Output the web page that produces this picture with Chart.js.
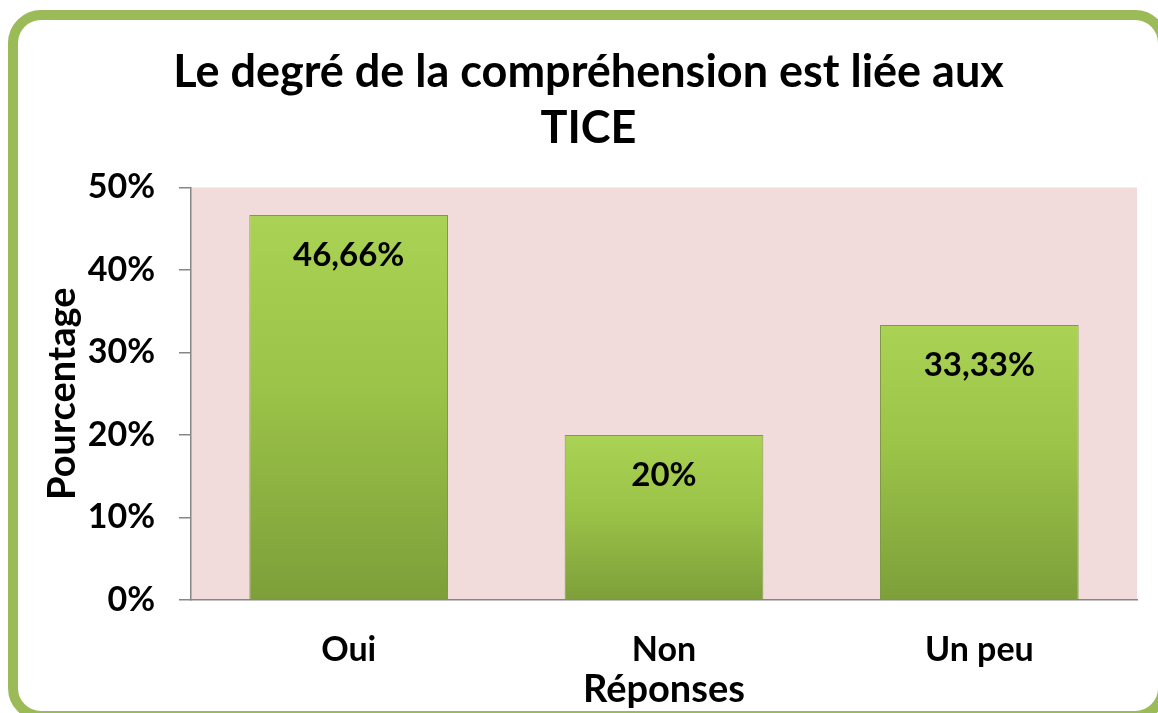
<!DOCTYPE html>
<html>
<head>
<meta charset="utf-8">
<script src="https://cdn.jsdelivr.net/npm/chart.js@4/dist/chart.umd.min.js"></script>
<style>
  html, body { margin: 0; padding: 0; background: #fff; }
  #wrap { width: 1158px; height: 713px; position: relative; }
</style>
</head>
<body>
<div id="wrap"><canvas id="myChart" width="1158" height="713"></canvas></div>
<script>
// donnees
var categories = ['Oui', 'Non', 'Un peu'];
var pourcentages = [46.66, 20, 33.33];
var yTicks = [0, 10, 20, 30, 40, 50];

var FONT = 'Lato, "Open Sans", sans-serif';
var AXIS_GREY = '#868686';

// cadre vert arrondi + fond zone de tracé rose
var frame = {
    id: 'frame',
    beforeDraw: function(chart) {
        var ctx = chart.ctx, a = chart.chartArea;
        ctx.save();
        ctx.fillStyle = '#fff';
        ctx.fillRect(0, 0, chart.width, chart.height);
        ctx.fillStyle = '#F2DCDB';
        ctx.fillRect(a.left, a.top, a.right - a.left, a.bottom - a.top);
        ctx.strokeStyle = '#9BBB59';
        ctx.lineWidth = 10;
        ctx.beginPath();
        ctx.roundRect(13, 15, 1150, 701, 28);
        ctx.stroke();
        ctx.restore();
    }
};

// etiquettes de valeurs dans le haut des barres
var valueLabels = {
    id: 'valueLabels',
    afterDatasetsDraw: function(chart) {
        var ctx = chart.ctx;
        var meta = chart.getDatasetMeta(0);
        ctx.save();
        ctx.font = 'bold 33px ' + FONT;
        ctx.fillStyle = '#000';
        ctx.textAlign = 'center';
        ctx.textBaseline = 'middle';
        meta.data.forEach(function(bar, i) {
            var txt = pourcentages[i].toLocaleString('fr-FR') + '%';
            ctx.fillText(txt, bar.x, bar.y + 40);
        });
        ctx.restore();
    }
};

function barGradient(c) {
    var chart = c.chart;
    if (!chart.chartArea) return '#9BBB59';
    var y = chart.scales.y;
    var top = y.getPixelForValue(c.raw), bot = y.getPixelForValue(0);
    var g = chart.ctx.createLinearGradient(0, top, 0, bot);
    g.addColorStop(0, '#AAD254');
    g.addColorStop(0.45, '#9BC348');
    g.addColorStop(1, '#7D9F3A');
    return g;
}

var ctx = document.getElementById('myChart').getContext('2d');
var chart = new Chart(ctx, {
    type: 'bar',
    data: {
        labels: categories,
        datasets: [{
            label: 'Pourcentage',
            data: pourcentages,
            backgroundColor: barGradient,
            borderColor: '#7E9A45',
            borderWidth: 1,
            categoryPercentage: 1,
            barPercentage: 0.63
        }]
    },
    plugins: [frame, valueLabels],
    options: {
        responsive: false,
        animation: false,
        layout: { padding: { left: 40, right: 21, top: 0, bottom: 0 } },
        plugins: {
            legend: { display: false },
            tooltip: { enabled: false },
            title: {
                display: true,
                text: ['Le degré de la compréhension est liée aux', 'TICE'],
                color: '#000',
                font: { family: FONT, size: 45, weight: 'bold', lineHeight: 1.25 },
                padding: { top: 44, bottom: 31 }
            }
        },
        scales: {
            x: {
                grid: { display: false, drawTicks: false },
                border: { display: true, color: AXIS_GREY, width: 1.5 },
                ticks: {
                    color: '#000',
                    padding: 30,
                    font: { family: FONT, size: 34, weight: 'bold' }
                },
                title: {
                    display: true,
                    text: 'Réponses',
                    color: '#000',
                    font: { family: FONT, size: 38, weight: 'bold' },
                    padding: { top: 0, bottom: 0 }
                },
                afterFit: function(s) { s.height = 113; }
            },
            y: {
                min: 0,
                max: 50,
                afterBuildTicks: function(s) {
                    s.ticks = yTicks.map(function(v) { return { value: v }; });
                },
                grid: {
                    display: true,
                    drawOnChartArea: false,
                    drawTicks: true,
                    tickLength: 12,
                    color: AXIS_GREY,
                    lineWidth: 1.5
                },
                border: { display: true, color: AXIS_GREY, width: 1.5 },
                ticks: {
                    color: '#000',
                    padding: 24,
                    font: { family: FONT, size: 34, weight: 'bold' },
                    callback: function(v) { return v + '%'; }
                },
                title: {
                    display: true,
                    text: 'Pourcentage',
                    color: '#000',
                    font: { family: FONT, size: 38, weight: 'bold' },
                    padding: { top: 0, bottom: 0 }
                },
                afterFit: function(s) { s.width = 151; }
            }
        }
    }
});
</script>
</body>
</html>
